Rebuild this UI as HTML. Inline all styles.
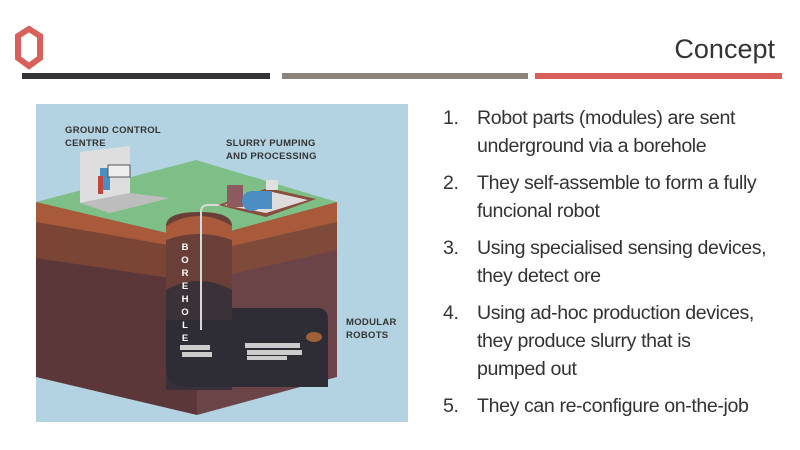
<!DOCTYPE html>
<html><head><meta charset="utf-8"><style>
html,body{margin:0;padding:0;background:#fff;width:800px;height:450px;overflow:hidden;font-family:"Liberation Sans",sans-serif}
.t{position:absolute;color:#333;font-size:19.6px;white-space:nowrap;letter-spacing:-0.4px}
</style></head><body>
<svg width="800" height="450" style="position:absolute;left:0;top:0">
<g fill="none" stroke="#d9605a" stroke-width="6">
<polygon points="29,29 40,36 40,58 29,66 18,58 18,36"/>
</g>
<g fill="none" stroke="#fff" stroke-width="1">
<polygon points="29,33 36,38 36,56 29,61 22,56 22,38"/>
</g>
<text x="775" y="58" text-anchor="end" font-family="Liberation Sans" font-size="27" fill="#333">Concept</text>
<rect x="22" y="73" width="248" height="6" fill="#333338"/>
<rect x="282" y="73" width="246" height="6" fill="#8b827c"/>
<rect x="535" y="73" width="247" height="6" fill="#d9605a"/>
<rect x="36" y="104" width="372" height="318" fill="#b3d3e3"/>
<polygon points="36,202 197,240 197,415 36,377" fill="#5c3739"/>
<polygon points="36,202 197,240 197,282 36,258" fill="#7a4535"/>
<polygon points="36,202 197,240 197,250 36,222" fill="#a85a3a"/>
<polygon points="197,240 337,202 337,377 197,415" fill="#6b4448"/>
<polygon points="197,240 337,202 337,250 197,282" fill="#7e4a3a"/>
<polygon points="197,240 337,202 337,222 197,254" fill="#a85a3a"/>
<polygon points="36,202 196,160 337,202 197,240" fill="#7dbf86"/>
<path d="M166,226 Q166,212 199,212 Q232,212 232,226 L232,387 L166,387 Z" fill="#6a3f38"/>
<path d="M166,226 Q199,206 232,226 L232,240 Q199,228 166,240 Z" fill="#a85a3a"/>
<path d="M166,290 Q199,272 232,290 L232,390 L166,390 Z" fill="#3a3238"/>
<path d="M166,320 L166,368 Q166,387 186,387 L328,387 L328,320 Q328,308 318,308 L232,308 L232,320 Z" fill="#2e2d35"/>
<rect x="166" y="320" width="66" height="50" fill="#2e2d35"/>
<path d="M201,330 L201,212 Q201,205 208,205 L240,205" fill="none" stroke="#d8d8d8" stroke-width="2"/>
<g fill="#ccc"><rect x="180" y="345" width="30" height="5"/><rect x="182" y="352" width="30" height="5"/>
<rect x="245" y="343" width="55" height="5"/><rect x="247" y="350" width="55" height="5"/><rect x="247" y="356" width="40" height="4"/></g>
<ellipse cx="314" cy="337" rx="8" ry="5" fill="#a0603a"/>
<polygon points="80,152 130,146 130,193 80,203" fill="#dedede"/>
<polygon points="80,203 130,193 170,198 110,213" fill="#bdbdbd"/>
<rect x="100" y="168" width="10" height="22" fill="#4a8fbf"/>
<rect x="108" y="165" width="22" height="12" fill="#eee" stroke="#555" stroke-width="1"/>
<rect x="98" y="176" width="5" height="18" fill="#c0463e"/>
<polygon points="218,205 268,188 316,199 266,217" fill="#8a4c3c"/>
<polygon points="224,205 268,191 308,200 266,213" fill="#ddd"/>
<rect x="227" y="185" width="16" height="22" fill="#8e5a60"/>
<ellipse cx="252" cy="201" rx="10" ry="10" fill="#4a8ec4"/>
<rect x="252" y="191" width="20" height="18" fill="#4a8ec4"/>
<rect x="266" y="180" width="12" height="10" fill="#e0e0e0"/>
<g font-family="Liberation Sans" font-weight="bold" font-size="9.5" fill="#333" letter-spacing="0.3">
<text x="65" y="133">GROUND CONTROL</text><text x="65" y="146">CENTRE</text>
<text x="226" y="146">SLURRY PUMPING</text><text x="226" y="159">AND PROCESSING</text>
<text x="346" y="325">MODULAR</text><text x="346" y="338">ROBOTS</text>
</g>
<g font-family="Liberation Sans" font-weight="bold" font-size="9.5" fill="#fff" text-anchor="middle">
<text x="185" y="250">B</text><text x="185" y="263">O</text><text x="185" y="276">R</text><text x="185" y="289">E</text><text x="185" y="302">H</text><text x="185" y="315">O</text><text x="185" y="328">L</text><text x="185" y="341">E</text>
</g>
</svg>
<div class="t" style="left:443px;top:107px">1.</div><div class="t" style="left:477px;top:107px">Robot parts (modules) are sent</div>
<div class="t" style="left:477px;top:135px">underground via a borehole</div>
<div class="t" style="left:443px;top:172px">2.</div><div class="t" style="left:477px;top:172px">They self-assemble to form a fully</div>
<div class="t" style="left:477px;top:200px">funcional robot</div>
<div class="t" style="left:443px;top:237px">3.</div><div class="t" style="left:477px;top:237px">Using specialised sensing devices,</div>
<div class="t" style="left:477px;top:265px">they detect ore</div>
<div class="t" style="left:443px;top:302px">4.</div><div class="t" style="left:477px;top:302px">Using ad-hoc production devices,</div>
<div class="t" style="left:477px;top:330px">they produce slurry that is</div>
<div class="t" style="left:477px;top:358px">pumped out</div>
<div class="t" style="left:443px;top:395px">5.</div><div class="t" style="left:477px;top:395px">They can re-configure on-the-job</div>
</body></html>
